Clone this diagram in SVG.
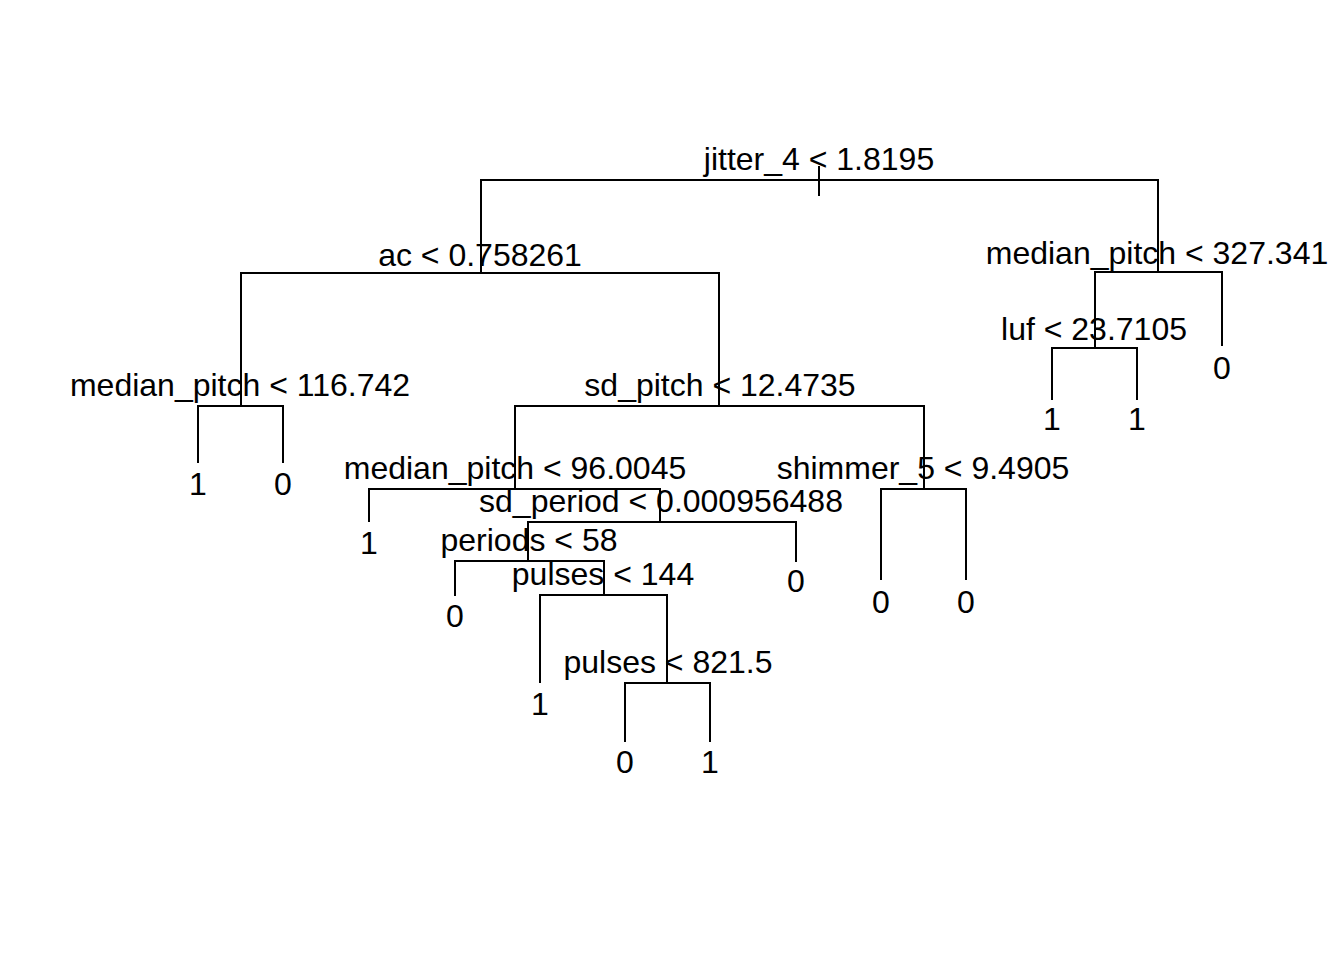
<svg xmlns="http://www.w3.org/2000/svg" width="1344" height="960" viewBox="0 0 1344 960">
<style>
.e{stroke:#000;stroke-width:2;fill:none;stroke-linecap:butt}
text{font-family:"Liberation Sans",Arial,sans-serif;font-size:32px;fill:#000;text-anchor:middle}
</style>
<rect width="1344" height="960" fill="#fff"/>
<g id="connectors" class="e">
<path d="M819,166V196"/>
<path d="M481,273V180H1158V272"/>
<path d="M241,406V273H719V406"/>
<path d="M1095,348V272H1222V346"/>
<path d="M1052,400V348H1137V400"/>
<path d="M198,463V406H283V463"/>
<path d="M515,489V406H924V489"/>
<path d="M369,522V489H660V522"/>
<path d="M881,580V489H966V580"/>
<path d="M528,561V522H796V562"/>
<path d="M455,596V561H604V595"/>
<path d="M540,683V595H667V683"/>
<path d="M625,742V683H710V742"/>
</g>
<g id="n_root"><text x="819" y="170">jitter_4 &lt; 1.8195</text></g>
<g id="n_ac"><text x="480" y="266">ac &lt; 0.758261</text></g>
<g id="n_mp327"><text x="1157" y="264">median_pitch &lt; 327.341</text></g>
<g id="n_luf"><text x="1094" y="340">luf &lt; 23.7105</text></g>
<g id="l_1222"><text x="1222" y="379">0</text></g>
<g id="l_1052"><text x="1052" y="430">1</text></g>
<g id="l_1137"><text x="1137" y="430">1</text></g>
<g id="n_mp116"><text x="240" y="396">median_pitch &lt; 116.742</text></g>
<g id="l_198"><text x="198" y="495">1</text></g>
<g id="l_283"><text x="283" y="495">0</text></g>
<g id="n_sdpitch"><text x="720" y="396">sd_pitch &lt; 12.4735</text></g>
<g id="n_mp96"><text x="515" y="479">median_pitch &lt; 96.0045</text></g>
<g id="l_369"><text x="369" y="554">1</text></g>
<g id="n_shimmer"><text x="923" y="479">shimmer_5 &lt; 9.4905</text></g>
<g id="l_881"><text x="881" y="613">0</text></g>
<g id="l_966"><text x="966" y="613">0</text></g>
<g id="n_sdperiod"><text x="661" y="512">sd_period &lt; 0.000956488</text></g>
<g id="l_796"><text x="796" y="592">0</text></g>
<g id="n_periods"><text x="529" y="551">periods &lt; 58</text></g>
<g id="l_455"><text x="455" y="627">0</text></g>
<g id="n_pulses144"><text x="603" y="585">pulses &lt; 144</text></g>
<g id="l_540"><text x="540" y="715">1</text></g>
<g id="n_pulses821"><text x="668" y="673">pulses &lt; 821.5</text></g>
<g id="l_625"><text x="625" y="773">0</text></g>
<g id="l_710"><text x="710" y="773">1</text></g>
</svg>
